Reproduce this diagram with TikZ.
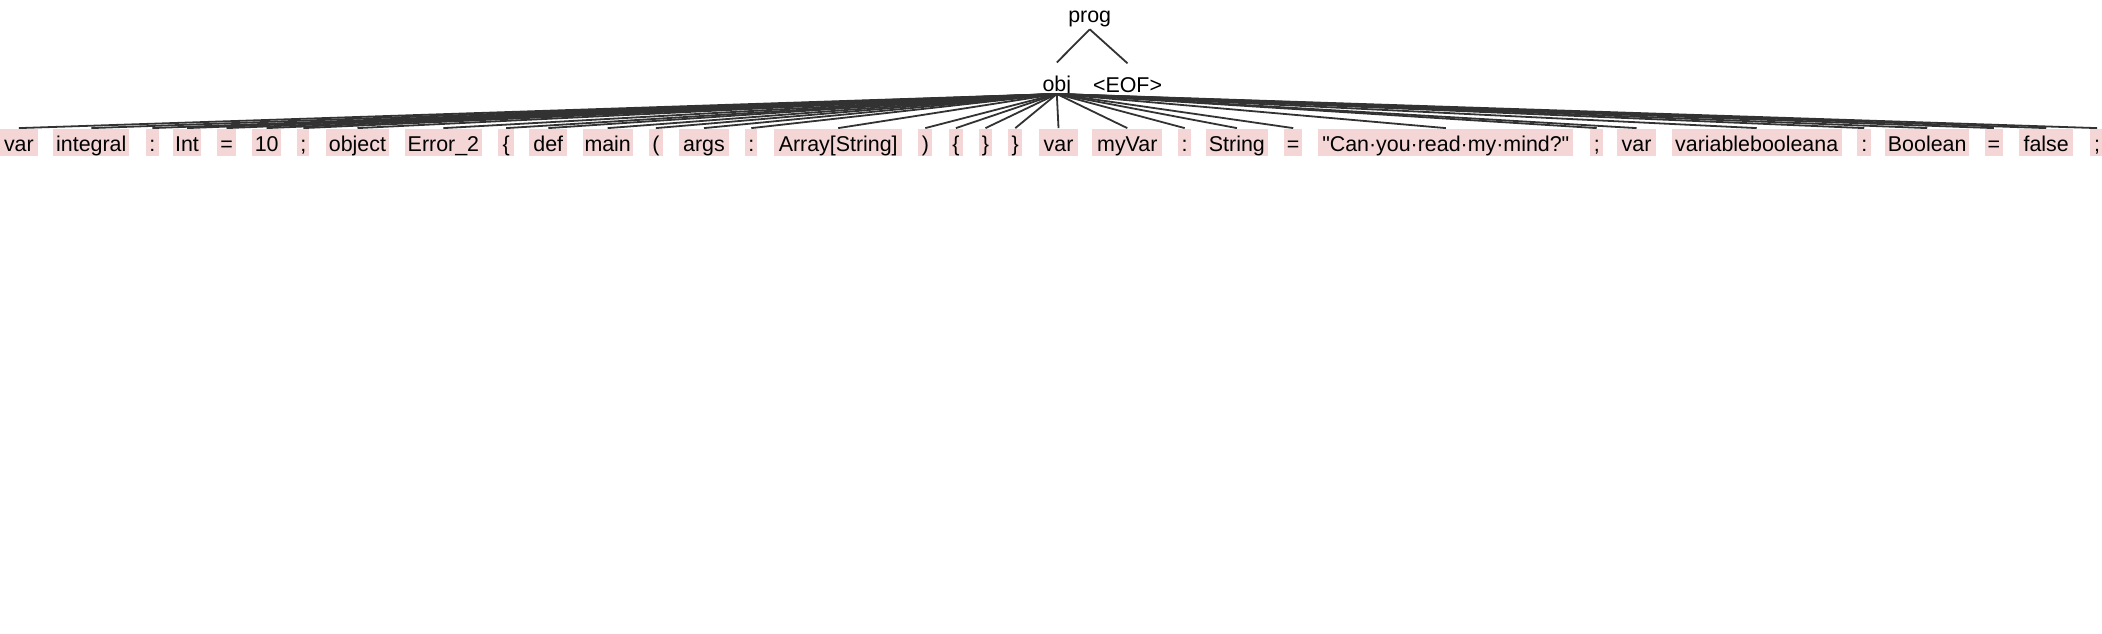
\documentclass[tikz,border=0pt]{standalone}
\usepackage{fontspec}
\newfontfamily\lsans{Liberation Sans}
\definecolor{leaffill}{RGB}{244,214,214}
\definecolor{edgecol}{RGB}{50,50,50}
\begin{document}
\begin{tikzpicture}[x=0.5pt,y=-0.5pt,
  every node/.style={font=\lsans\fontsize{10.7}{12}\selectfont, inner sep=0pt},
  leaf/.style={fill=leaffill, text height=11.5pt, text depth=2pt, inner xsep=0pt, inner ysep=0pt},
  inner/.style={text height=14.35pt, text depth=1pt},
  edge/.style={draw=edgecol, line width=0.9pt}]
\useasboundingbox (0,0) rectangle (2102,633);
% upper nodes
\node[text height=8pt, text depth=3.25pt, anchor=south] (prog) at (1089.7,29.3) {prog};
\node[inner, anchor=south] (obj) at (1056.8,94) {obj};
\node[inner, anchor=north] (eof) at (1127.5,63.3) {<EOF>};
% leaves
\node[leaf, minimum width=18.85pt] (l1) at (18.9,142) {var};
\node[leaf, minimum width=38pt] (l2) at (91.3,142) {integral};
\node[leaf, minimum width=6.65pt] (l3) at (152.4,142) {:};
\node[leaf, minimum width=13.7pt] (l4) at (187,142) {Int};
\node[leaf, minimum width=9.2pt] (l5) at (226.5,142) {=};
\node[leaf, minimum width=14.35pt] (l6) at (266.7,142) {10};
\node[leaf, minimum width=6pt] (l7) at (303.3,142) {;};
\node[leaf, minimum width=31.8pt] (l8) at (357.5,142) {object};
\node[leaf, minimum width=38.35pt] (l9) at (443.4,142) {Error\_2};
\node[leaf, minimum width=7.85pt] (l10) at (506.2,142) {\{};
\node[leaf, minimum width=19pt] (l11) at (548.3,142) {def};
\node[leaf, minimum width=25pt] (l12) at (607.7,142) {main};
\node[leaf, minimum width=6.85pt] (l13) at (655.9,142) {(};
\node[leaf, minimum width=25pt] (l14) at (704,142) {args};
\node[leaf, minimum width=6pt] (l15) at (751.3,142) {:};
\node[leaf, minimum width=64.15pt] (l16) at (838.2,142) {Array[String]};
\node[leaf, minimum width=7pt] (l17) at (925.3,142) {)};
\node[leaf, minimum width=6.85pt] (l18) at (955.9,142) {\{};
\node[leaf, minimum width=6.8pt] (l19) at (985.5,142) {\}};
\node[leaf, minimum width=7pt] (l20) at (1015.3,142) {\}};
\node[leaf, minimum width=19.2pt] (l21) at (1058.5,142) {var};
\node[leaf, minimum width=35pt] (l22) at (1127.3,142) {myVar};
\node[leaf, minimum width=6.35pt] (l23) at (1184.7,142) {:};
\node[leaf, minimum width=30.85pt] (l24) at (1236.9,142) {String};
\node[leaf, minimum width=8.85pt] (l25) at (1293.2,142) {=};
\node[leaf, minimum width=127.5pt] (l26) at (1445.8,142) {"Can·you·read·my·mind?"};
\node[leaf, minimum width=6.65pt] (l27) at (1596.7,142) {;};
\node[leaf, minimum width=19.2pt] (l28) at (1636.5,142) {var};
\node[leaf, minimum width=85pt] (l29) at (1756.7,142) {variablebooleana};
\node[leaf, minimum width=6.85pt] (l30) at (1864.2,142) {:};
\node[leaf, minimum width=42.15pt] (l31) at (1927.2,142) {Boolean};
\node[leaf, minimum width=8.85pt] (l32) at (1993.9,142) {=};
\node[leaf, minimum width=27.15pt] (l33) at (2046.2,142) {false};
\node[leaf, minimum width=7pt] (l34) at (2097,142) {;};
% edges
\draw[edge] (prog.south) -- (obj.north);
\draw[edge] (prog.south) -- (eof.north);
\foreach \i in {1,...,34} \draw[edge] (obj.south) -- (l\i.north);
\end{tikzpicture}
\end{document}
